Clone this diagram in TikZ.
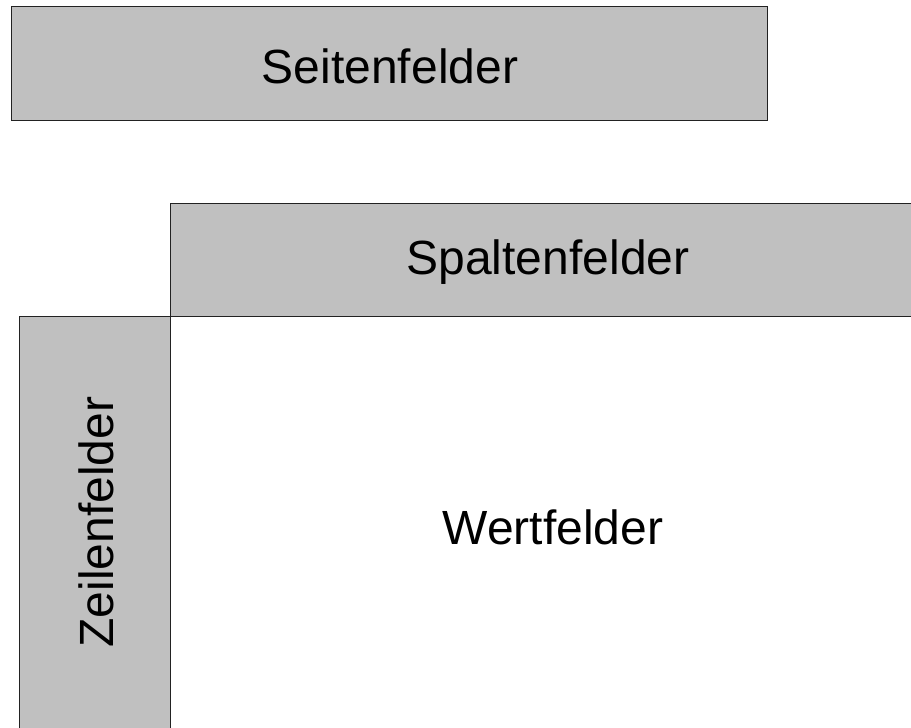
\documentclass[tikz,border=0pt]{standalone}
\usepackage{fontspec}
\setmainfont{Liberation Sans}
\definecolor{fieldgray}{HTML}{C0C0C0}
\definecolor{fieldline}{HTML}{222222}
\begin{document}
\begin{tikzpicture}[x=1pt,y=-1pt,
  field/.style={fill=fieldgray,draw=fieldline,line width=1.2pt},
  label/.style={font=\fontsize{48}{56}\selectfont,text=black,inner sep=0pt}]
  \useasboundingbox (0,0) rectangle (911,728);
  \clip (0,0) rectangle (911,728);
  % page fields
  \draw[field] (11.5,6.5) rectangle (767.5,120.5);
  \node[label] (seiten) at (390,66) {Seitenfelder};
  % column fields, running off the right edge
  \draw[field] (170.5,203.5) rectangle (930,316.5);
  \node[label] (spalten) at (548,262) {Spaltenfelder};
  % row fields, running off the bottom edge
  \draw[field] (19.5,316.5) rectangle (170.5,750);
  \node[label,rotate=90] (zeilen) at (96,522) {Zeilenfelder};
  % value fields
  \node[label] (wert) at (553,527) {Wertfelder};
\end{tikzpicture}
\end{document}
